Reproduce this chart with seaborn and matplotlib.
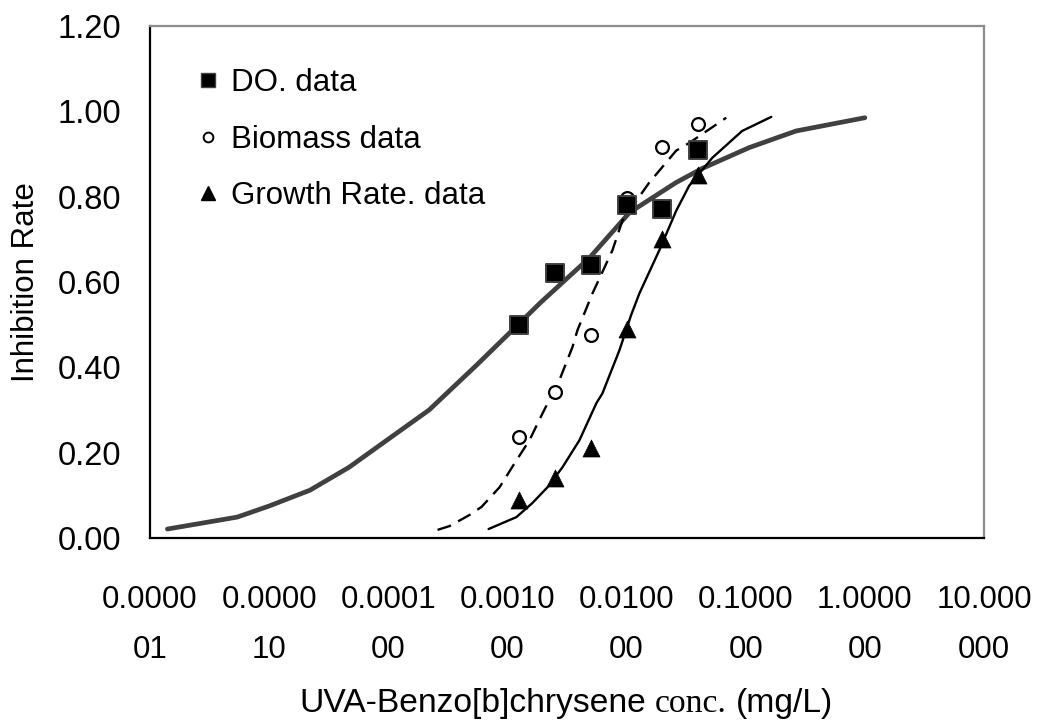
import matplotlib
matplotlib.use("Agg")
import matplotlib.pyplot as plt
from matplotlib.lines import Line2D
from matplotlib.ticker import FixedLocator, FixedFormatter, NullLocator
import pandas as pd
import seaborn as sns

# Measured inhibition rates
conc = [0.00125, 0.0025, 0.005, 0.01, 0.02, 0.04]
do_rate = [0.50, 0.62, 0.64, 0.78, 0.77, 0.91]
biomass_rate = [0.236, 0.342, 0.475, 0.796, 0.916, 0.97]
growth_rate = [0.09, 0.14, 0.21, 0.49, 0.70, 0.85]

# Fitted dose-response curves
do_fit_x = [1.4e-6, 5.4e-6, 1.0e-5, 2.2e-5, 4.7e-5, 9.7e-5, 2.2e-4, 5.5e-4,
            1.1e-3, 1.9e-3, 4.9e-3, 0.0106, 0.026, 0.043, 0.107, 0.265, 1.0]
do_fit_y = [0.021, 0.049, 0.075, 0.112, 0.166, 0.229, 0.300, 0.405,
            0.487, 0.552, 0.657, 0.763, 0.833, 0.866, 0.915, 0.954, 0.985]

bio_fit_x = [2.59e-4, 3.27e-4, 4.81e-4, 6.07e-4, 8.59e-4, 1.19e-3, 1.53e-3,
             1.97e-3, 2.73e-3, 3.51e-3, 3.87e-3, 5.17e-3, 7.60e-3, 9.23e-3,
             0.0155, 0.0261, 0.0336, 0.0686]
bio_fit_y = [0.019, 0.028, 0.054, 0.073, 0.119, 0.182, 0.229,
             0.292, 0.370, 0.447, 0.487, 0.573, 0.674, 0.744,
             0.833, 0.908, 0.926, 0.985]

gr_fit_x = [6.95e-4, 1.19e-3, 1.62e-3, 2.17e-3, 2.90e-3, 4.02e-3, 5.58e-3,
            6.27e-3, 8.71e-3, 0.0109, 0.0128, 0.0188, 0.0261, 0.0336,
            0.0524, 0.0933, 0.164]
gr_fit_y = [0.021, 0.049, 0.082, 0.119, 0.166, 0.229, 0.316,
            0.339, 0.440, 0.522, 0.573, 0.674, 0.767, 0.826,
            0.891, 0.954, 0.987]

x_ticks = [1e-6, 1e-5, 1e-4, 1e-3, 1e-2, 1e-1, 1.0, 10.0]
x_tick_labels = ["0.0000\n01", "0.0000\n10", "0.0001\n00", "0.0010\n00",
                 "0.0100\n00", "0.1000\n00", "1.0000\n00", "10.000\n000"]
y_ticks = [0.0, 0.2, 0.4, 0.6, 0.8, 1.0, 1.2]
y_tick_labels = ["0.00", "0.20", "0.40", "0.60", "0.80", "1.00", "1.20"]

legend_labels = ["DO. data", "Biomass data", "Growth Rate. data"]

sns.set_style("white")
plt.rcParams["font.family"] = ["Liberation Sans", "DejaVu Sans"]
plt.rcParams["text.color"] = "black"
plt.rcParams["axes.labelcolor"] = "black"
plt.rcParams["xtick.labelcolor"] = "black"
plt.rcParams["ytick.labelcolor"] = "black"

FS = 22.5
fig = plt.figure(figsize=(10.39, 7.27), dpi=100)
ax = fig.add_axes([150 / 1039, 1 - 538 / 727, (984 - 150) / 1039, (538 - 26) / 727])

# fitted curves
sns.lineplot(x=do_fit_x, y=do_fit_y, ax=ax, estimator=None, sort=False,
             color="#404040", linewidth=3.4, zorder=2)
sns.lineplot(x=bio_fit_x, y=bio_fit_y, ax=ax, estimator=None, sort=False,
             color="black", linewidth=1.7, linestyle=(0, (6, 3.5)), zorder=2)
sns.lineplot(x=gr_fit_x, y=gr_fit_y, ax=ax, estimator=None, sort=False,
             color="black", linewidth=1.7, zorder=2)

# measured points
sns.scatterplot(x=conc, y=biomass_rate, ax=ax, marker="o", s=85,
                facecolor="white", edgecolor="black", linewidth=1.6, zorder=3)
sns.scatterplot(x=conc, y=do_rate, ax=ax, marker="s", s=150,
                color="black", edgecolor="#404040", linewidth=1.4, zorder=4)
sns.scatterplot(x=conc, y=growth_rate, ax=ax, marker="^", s=150,
                color="black", edgecolor="black", linewidth=0.5, zorder=5)

ax.set_xscale("log")
ax.set_xlim(1e-6, 10)
ax.set_ylim(0, 1.2)
ax.xaxis.set_major_locator(FixedLocator(x_ticks))
ax.xaxis.set_major_formatter(FixedFormatter(x_tick_labels))
ax.xaxis.set_minor_locator(NullLocator())
ax.yaxis.set_major_locator(FixedLocator(y_ticks))
ax.yaxis.set_major_formatter(FixedFormatter(y_tick_labels))

ax.tick_params(axis="x", direction="in", length=8, width=1.2, color="#444444",
               labelcolor="black", labelsize=FS, pad=34)
ax.tick_params(axis="y", direction="in", length=8, width=1.2, color="#777777",
               labelcolor="black", labelsize=23.5, pad=20.5)
for lbl in ax.get_xticklabels():
    lbl.set_linespacing(1.85)
    lbl.set_verticalalignment("top")

for side in ["left", "bottom"]:
    ax.spines[side].set_color("black")
    ax.spines[side].set_linewidth(1.6)
for side in ["top", "right"]:
    ax.spines[side].set_color("#8c8c8c")
    ax.spines[side].set_linewidth(1.6)

ax.set_ylabel("Inhibition Rate", fontsize=FS, color="black")
ax.yaxis.set_label_coords(-0.131, 0.5)

handles = [
    Line2D([], [], linestyle="none", marker="s", markersize=10,
           markerfacecolor="black", markeredgecolor="#404040"),
    Line2D([], [], linestyle="none", marker="o", markersize=7,
           markerfacecolor="white", markeredgecolor="black", markeredgewidth=1.4),
    Line2D([], [], linestyle="none", marker="^", markersize=10,
           markerfacecolor="black", markeredgecolor="black"),
]
leg = ax.legend(handles, legend_labels, loc="upper left",
                bbox_to_anchor=(0.040, 0.943), frameon=False, fontsize=FS,
                handlelength=0.8, handletextpad=0.34, labelspacing=0.86,
                borderaxespad=0, labelcolor="black")

# x-axis title with mixed faces
XFS = 24.2
parts = [("UVA-Benzo[b]chrysene", "Liberation Sans"),
         ("conc.", "Liberation Serif"),
         ("(mg/L)", "Liberation Sans")]
gap_px = 9
texts = [fig.text(0, 15 / 727, s, family=f, fontsize=XFS, ha="left",
                  va="baseline", color="black")
         for s, f in parts]
renderer = fig.canvas.get_renderer()
widths = [t.get_window_extent(renderer).width for t in texts]
total = sum(widths) + gap_px * (len(widths) - 1)
x0 = 566 - total / 2
for t, w in zip(texts, widths):
    t.set_x(x0 / 1039)
    x0 += w + gap_px

fig.savefig("out.png", dpi=100, facecolor="white")
